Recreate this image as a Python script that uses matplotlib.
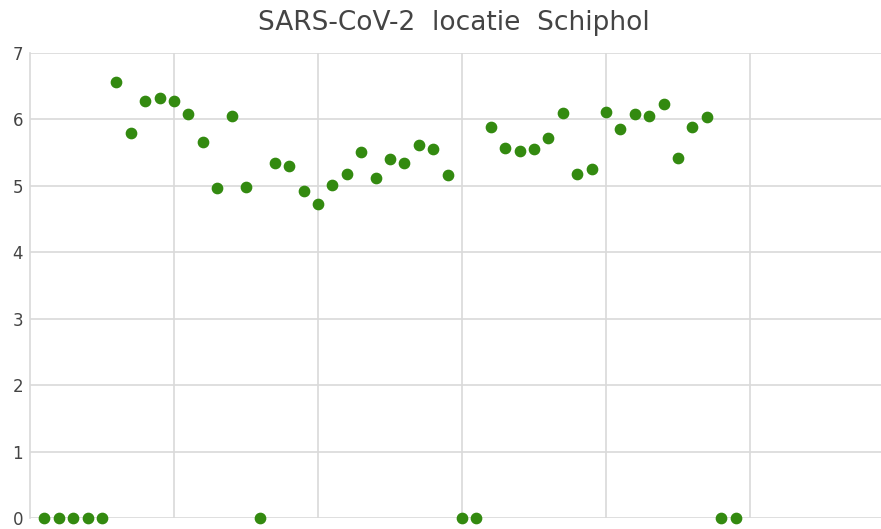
import numpy as np
import matplotlib.pyplot as plt

# sample index (day number) and measured value
idx = list(range(1, 50))
vals = [0, 0, 0, 0, 0,
        6.57, 5.80, 6.28, 6.32, 6.28, 6.08, 5.66, 4.97, 6.05, 4.98,
        0, 5.34, 5.30, 4.93, 4.72, 5.02, 5.18, 5.51, 5.12, 5.40,
        5.34, 5.62, 5.56, 5.16, 0, 0, 5.89, 5.57, 5.53, 5.56,
        5.72, 6.09, 5.18, 5.25, 6.11, 5.85, 6.08, 6.05, 6.23, 5.42,
        5.88, 6.03, 0, 0]
yticks = [0, 1, 2, 3, 4, 5, 6, 7]
xgrid = [10, 20, 30, 40, 50]

W, H = 881, 529
fig = plt.figure(figsize=(W / 100, H / 100), dpi=100)
ax = fig.add_axes([30 / W, 1 - 518 / H, 1 - 30 / W, (518 - 53) / H])

grid_c = '#d9d9d9'
ax.scatter(idx, vals, s=55, color='#338a10', zorder=3, clip_on=False)

ax.set_xlim(0, 59.1)
ax.set_ylim(0, 7)
ax.set_yticks(yticks)
ax.set_xticks(xgrid)
ax.tick_params(axis='x', length=0, labelbottom=False)
ax.tick_params(axis='y', length=0, labelsize=12, labelcolor='#444444', pad=5)
ax.grid(True, color=grid_c, linewidth=1.2)
for s in ['top', 'right', 'bottom']:
    ax.spines[s].set_visible(False)
ax.spines['left'].set_color(grid_c)
ax.spines['left'].set_linewidth(1.2)
ax.set_axisbelow(True)

fig.text(454 / W, 1 - 23 / H, 'SARS-CoV-2  locatie  Schiphol', ha='center', va='center',
         fontsize=19, color='#444444')

fig.savefig('out.png', dpi=100)
